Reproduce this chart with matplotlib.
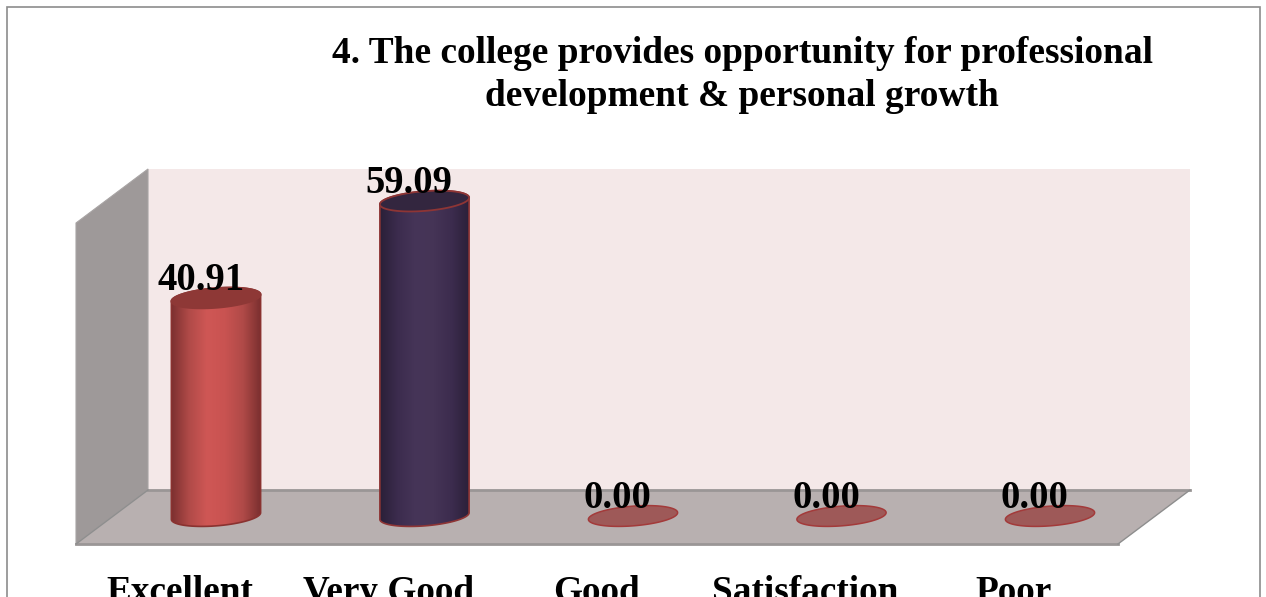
import numpy as np
import matplotlib
matplotlib.use("Agg")
import matplotlib.pyplot as plt
from matplotlib.patches import Polygon, Rectangle
from matplotlib.colors import LinearSegmentedColormap

# data
categories = ["Excellent", "Very Good", "Good", "Satisfaction", "Poor"]
values = [40.91, 59.09, 0.00, 0.00, 0.00]
title_text = "4. The college provides opportunity for professional\ndevelopment & personal growth"

W, H = 1266, 597
plt.rcParams["font.family"] = ["Liberation Serif", "DejaVu Serif"]
plt.rcParams["font.weight"] = "bold"

fig = plt.figure(figsize=(W / 100, H / 100), dpi=100)

# background layer in pixels (walls, floor, frame)
bg = fig.add_axes([0, 0, 1, 1])
bg.set_xlim(0, W)
bg.set_ylim(H, 0)
bg.axis("off")

bg.add_patch(Rectangle((6.5, 6.5), 1253, 620, fc="white", ec="#8c8c8c", lw=1.2))
bg.add_patch(Polygon([(148, 169), (1190, 169), (1190, 490), (148, 490)], fc="#f4e8e8", ec="none"))
bg.add_patch(Polygon([(76, 223), (148, 169), (148, 490), (76, 544)], fc="#9e9999", ec="#a8a4a4", lw=0.8))
bg.add_patch(Polygon([(148, 490), (1190, 490), (1118, 544), (76, 544)], fc="#b8b0b0", ec="none"))
bg.plot([148, 1190], [490, 490], color="#9a9696", lw=2)
bg.plot([76, 1118], [544, 544], color="#9a9696", lw=2)
bg.plot([76, 148], [544, 490], color="#8e8e8e", lw=1)
bg.plot([1118, 1190], [544, 490], color="#8e8e8e", lw=1)

bg.text(742, 75, title_text, ha="center", va="center", fontsize=26.9, fontweight="bold",
        linespacing=1.26, color="black")

# data layer: category 0..4 and value -10..70 lined up with the drawn floor
px_per_cat = 208.5
px_per_val = 5.33
x0, y0 = 216, 516
y_low, y_high = -10, 70
left = x0 - 0.5 * px_per_cat
bottom = H - y0 + y_low * px_per_val
ax = fig.add_axes([left / W, bottom / H, 5 * px_per_cat / W, (y_high - y_low) * px_per_val / H])
ax.axis("off")
ax.patch.set_alpha(0)

half_w = 0.214
half_h = 1.85
tilt = 0.34
t = np.linspace(0, 2 * np.pi, 200)


def ellipse(cx, cy):
    return np.column_stack([cx + half_w * np.cos(t), cy + half_h * np.sin(t) + tilt * half_h * np.cos(t)])


cmaps = [
    LinearSegmentedColormap.from_list("r", ["#7a2f2f", "#b04a48", "#cf5755", "#c95351", "#b04a48", "#7a2f2f"]),
    LinearSegmentedColormap.from_list("p", ["#2a2038", "#3c2c4e", "#463558", "#453456", "#3c2c4e", "#2a2038"]),
]
top_colors = ["#8e3836", "#33263f"]
top_edges = ["#8e3836", "#8e3535"]
side_edges = ["#8a3230", "#8e3535"]

for i, (cat, v) in enumerate(zip(categories, values)):
    if v > 0:
        e0 = ellipse(i, 0)
        e1 = ellipse(i, v)
        lower = e0[(t > np.pi) & (t < 2 * np.pi)]
        upper = e1[(t > 0) & (t < np.pi)]
        body = np.vstack([lower[np.argsort(lower[:, 0])], upper[np.argsort(-upper[:, 0])]])
        grad = np.linspace(0, 1, 256).reshape(1, -1)
        im = ax.imshow(grad, cmap=cmaps[i], aspect="auto", zorder=2,
                       extent=[i - half_w, i + half_w, -half_h * 1.4, v + half_h * 1.4])
        clip = Polygon(body, closed=True, transform=ax.transData, fc="none", ec=side_edges[i], lw=1.2, zorder=3)
        ax.add_patch(clip)
        im.set_clip_path(clip)
        ax.add_patch(Polygon(e1, closed=True, fc=top_colors[i], ec=top_edges[i], lw=1.3, zorder=4))
    else:
        ax.add_patch(Polygon(ellipse(i, v), closed=True, fc="#9e5958", ec="#a33a3a", lw=1.1, zorder=4))

    ax.annotate(f"{v:.2f}", (i, v), xytext=(-11, 6), textcoords="offset points", ha="center", va="baseline",
                fontsize=27.8, fontweight="bold", color="black", zorder=5, annotation_clip=False)
    ax.annotate(cat, (i, 0), xytext=(-26, -55), textcoords="offset points", ha="center", va="center",
                fontsize=26.8, fontweight="bold", color="black", annotation_clip=False)

ax.set_xlim(-0.5, 4.5)
ax.set_ylim(y_low, y_high)

fig.savefig("out.png", dpi=100)
plt.close(fig)
